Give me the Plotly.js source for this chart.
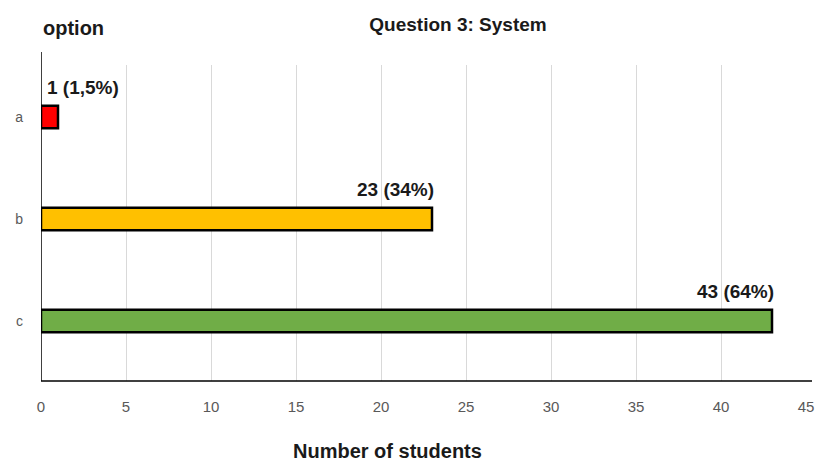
<!DOCTYPE html>
<html><head><meta charset="utf-8">
<script src="https://cdn.plot.ly/plotly-3.0.1.min.js"></script>
<style>html,body{margin:0;padding:0;background:#fff}#chart{width:819px;height:461px}</style>
</head><body><div id="chart"></div>
<script>
const categories = ['a', 'b', 'c'];
const students = [1, 23, 43];
const labels = ['1 (1,5%)', '23 (34%)', '43 (64%)'];
const colors = ['#FF0000', '#FFC000', '#70AD47'];
const xTicks = [0, 5, 10, 15, 20, 25, 30, 35, 40, 45];

const FONT = 'Arial, "Liberation Sans", sans-serif';

const trace = {
  type: 'bar', orientation: 'h',
  x: students, y: categories,
  width: 0.22,
  marker: {color: colors, line: {color: '#000000', width: 2.5}},
  hoverinfo: 'none'
};

const annotations = categories.map((c, i) => {
  const small = students[i] < 5;
  return {
    x: small ? 0 : students[i], y: c, xref: 'x', yref: 'y',
    text: '<b>' + labels[i] + '</b>', showarrow: false,
    xanchor: small ? 'left' : 'right', xshift: 4, yshift: 30,
    font: {family: FONT, size: 19, color: '#1a1a1a'}
  };
});
annotations.push({
  x: 0, y: 1, xref: 'paper', yref: 'paper', xanchor: 'left', yanchor: 'bottom',
  yshift: 24, text: '<b>option</b>', showarrow: false,
  font: {family: FONT, size: 20, color: '#1a1a1a'}
});
annotations.push({
  x: (387 - 41) / 765, y: 0, xref: 'paper', yref: 'paper', xanchor: 'center', yanchor: 'middle',
  yshift: -70, text: '<b>Number of students</b>', showarrow: false,
  font: {family: FONT, size: 20, color: '#1a1a1a'}
});

const layout = {
  width: 819, height: 461,
  margin: {l: 41, r: 13, t: 65, b: 80},
  paper_bgcolor: '#ffffff', plot_bgcolor: '#ffffff',
  showlegend: false,
  title: {text: '<b>Question 3: System</b>', x: 458 / 819, xanchor: 'center', y: 1 - 24 / 461, yanchor: 'middle',
    font: {family: FONT, size: 19, color: '#1a1a1a'}},
  xaxis: {
    range: [0, 45], tickvals: xTicks, ticktext: xTicks.map(String),
    showgrid: true, gridcolor: '#d9d9d9', gridwidth: 1,
    zeroline: false, showline: false, ticks: '',
    ticklabelstandoff: 15,
    tickfont: {family: FONT, size: 15, color: '#595959'},
    fixedrange: true
  },
  yaxis: {
    type: 'category', categoryorder: 'array', categoryarray: categories,
    range: [2.588, -0.51],
    showgrid: false, zeroline: false, showline: false, ticks: '',
    ticklabelstandoff: 17,
    tickfont: {family: FONT, size: 14, color: '#595959'},
    fixedrange: true
  },
  annotations: annotations,
  shapes: [
    {type: 'line', xref: 'x', yref: 'paper', x0: 0, x1: 0, y0: 0, y1: 1 + 13 / 316,
      line: {color: '#000000', width: 1.5}},
    {type: 'line', xref: 'paper', yref: 'paper', x0: 0, x1: 1 + 6 / 765, y0: 0, y1: 0,
      line: {color: '#000000', width: 1.5}}
  ]
};

Plotly.newPlot('chart', [trace], layout, {staticPlot: true, displayModeBar: false});
</script></body></html>
